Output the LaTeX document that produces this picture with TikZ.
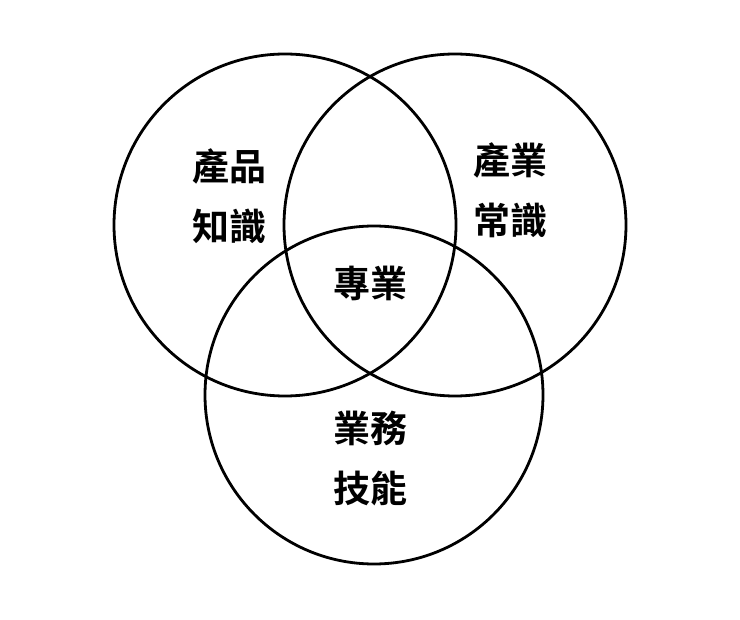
\documentclass[tikz,border=0pt]{standalone}
\usepackage{fontspec}
\newfontfamily\cjk{Noto Sans CJK TC}[BoldFont={* Bold}]
\begin{document}
\begin{tikzpicture}[x=1pt,y=-1pt,
 circ/.style={draw=black,line width=2.8pt},
 lbl/.style={font=\cjk\bfseries\fontsize{37}{60}\selectfont,align=center,inner sep=0pt}]
\useasboundingbox (0,0) rectangle (740,620);
\draw[circ] (285,225) circle[radius=171] coordinate (cl);
\draw[circ] (455,225) circle[radius=171] coordinate (cr);
\draw[circ] (374,395) circle[radius=169] coordinate (cb);
\node[lbl] (a) at (229,196) {產品\\知識};
\node[lbl] (b) at (510,190) {產業\\常識};
\node[lbl] (c) at (370,283) {專業};
\node[lbl] (d) at (370,458) {業務\\技能};
\end{tikzpicture}
\end{document}
